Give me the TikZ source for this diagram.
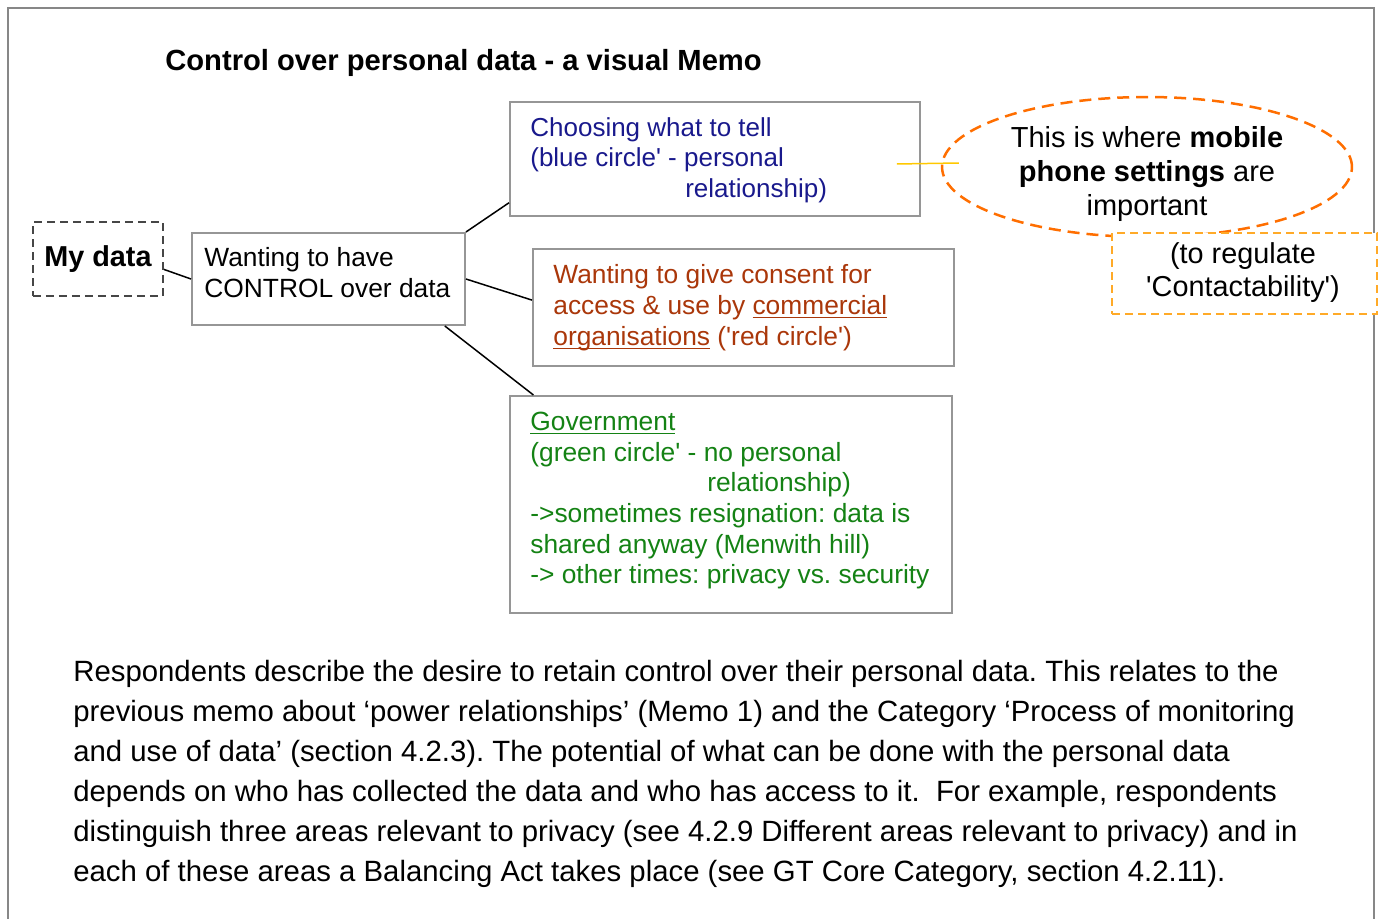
\documentclass[tikz,border=0pt]{standalone}
\usepackage{fontspec}
\setmainfont{Liberation Sans}[Ligatures=TeXOff]
\usetikzlibrary{shapes.geometric, calc, math}
\definecolor{boxgray}{RGB}{150,150,150}
\definecolor{framegray}{RGB}{135,135,135}
\definecolor{dashgray}{RGB}{70,70,70}
\definecolor{myblue}{RGB}{25,25,140}
\definecolor{myred}{RGB}{170,55,10}
\definecolor{mygreen}{RGB}{20,130,20}
\definecolor{myorange}{RGB}{255,110,0}
\definecolor{lightorange}{RGB}{255,170,40}
\definecolor{myyellow}{RGB}{255,200,0}
\frenchspacing
\newcommand{\undl}[1]{\underline{\smash{#1}}}

\begin{document}
\begin{tikzpicture}[x=0.02cm,y=-0.02cm,
  memobox/.style={draw=boxgray,line width=0.04cm,anchor=north west,inner sep=0pt},
  memotext/.style={anchor=west,align=left,inner sep=0pt,font=\fontsize{15}{17.6}\selectfont},
  link/.style={line width=0.03cm}]
\tikzmath{
\W=1380;
\H=919;
}
\useasboundingbox (0,0) rectangle (\W,\H);
\draw[framegray,line width=0.04cm] (8,\H) -- (8,8) -- (1374,8) -- (1374,\H);

\node[anchor=base west,inner sep=0pt,font=\bfseries\fontsize{16.6}{19}\selectfont] (title) at (165,71) {Control over personal data - a visual Memo};

\node[draw=dashgray,line width=0.04cm,dash pattern=on 0.16cm off 0.1cm,anchor=north west,minimum width=2.6cm,minimum height=1.48cm,inner sep=0pt,font=\bfseries\fontsize{16.4}{19}\selectfont] (mydata) at (32,221) {My data};

\node[memobox,minimum width=5.46cm,minimum height=1.84cm] (want) at (191,232) {};
\node[memotext] (wanttext) at (204,272.5) {Wanting to have\\CONTROL over data};

\node[memobox,minimum width=8.2cm,minimum height=2.28cm] (blue) at (509,101) {};
\node[memotext,text=myblue,font=\fontsize{14.8}{17.4}\selectfont] (bluetext) at (530,160) {Choosing what to tell\\(blue circle' - personal\\\hspace*{3.1cm}relationship)};

\node[memobox,minimum width=8.42cm,minimum height=2.34cm] (red) at (532,248) {};
\node[memotext,text=myred] (redtext) at (553,308) {Wanting to give consent for\\access \& use by \undl{commercial}\\\undl{organisations} ('red circle')};

\node[memobox,minimum width=8.84cm,minimum height=4.34cm] (green) at (509,395) {};
\node[memotext,text=mygreen,font=\fontsize{15}{17.4}\selectfont] (greentext) at (530,510) {\undl{Government}\\(green circle' - no personal\\\hspace*{3.54cm}relationship)\\->sometimes resignation: data is\\shared anyway (Menwith hill)\\-> other times: privacy vs. security};

\draw[link] (mydata.-9) -- (want.west);
\draw[link] (want.north east) -- (blue.192);
\draw[link] (want.east) -- (red.178.5);
\draw[link] (want.-22.2) -- (green.151.3);

\node[ellipse,draw=myorange,line width=0.05cm,dash pattern=on 0.24cm off 0.14cm,minimum width=8.2cm,minimum height=2.8cm,inner sep=0pt] (phone) at (1147,167) {};
\node[align=center,inner sep=0pt,font=\fontsize{16.5}{19.3}\selectfont] (phonetext) at (1147,174) {This is where \textbf{mobile}\\\textbf{phone settings} are\\important};
\draw[myyellow,line width=0.03cm] ($(blue.east)+(-24,5)$) -- ($(phone.west)+(18,-4)$);

\node[draw=lightorange,fill=white,line width=0.04cm,dash pattern=on 0.16cm off 0.1cm,anchor=north west,minimum width=5.3cm,minimum height=1.62cm,inner sep=0pt] (contact) at (1111,232) {};
\node[align=center,inner sep=0pt,font=\fontsize{16.4}{18.8}\selectfont] (contacttext) at (1243,273) {(to regulate\\'Contactability')};

\node[anchor=north west,inner sep=0pt,align=left,font=\fontsize{16.7}{22.8}\selectfont] (memo) at (73,660) {Respondents describe the desire to retain control over their personal data. This relates to the\\
previous memo about ‘power relationships’ (Memo 1) and the Category ‘Process of monitoring\\
and use of data’ (section 4.2.3). The potential of what can be done with the personal data\\
depends on who has collected the data and who has access to it.\ \ For example, respondents\\
distinguish three areas relevant to privacy (see 4.2.9 Different areas relevant to privacy) and in\\
each of these areas a Balancing Act takes place (see GT Core Category, section 4.2.11).};
\end{tikzpicture}
\end{document}
